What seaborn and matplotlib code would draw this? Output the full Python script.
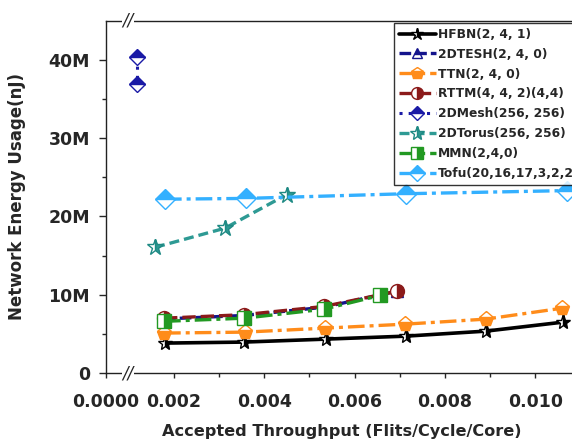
import matplotlib
matplotlib.use("Agg")
import matplotlib.pyplot as plt
import seaborn as sns
import numpy as np

sns.set_style("ticks")
plt.rcParams['font.family'] = ['DejaVu Sans']
plt.rcParams['font.weight'] = 'bold'

# ---- data ----
hfbn_x = [0.00180, 0.00355, 0.00537, 0.00714, 0.00891, 0.01062]
hfbn_y = [3.82e6, 3.95e6, 4.33e6, 4.71e6, 5.35e6, 6.50e6]

tesh_x = [0.00178, 0.00355, 0.00532, 0.00694]
tesh_y = [6.90e6, 7.35e6, 8.40e6, 10.45e6]

ttn_x = [0.00178, 0.00357, 0.00534, 0.00712, 0.00890, 0.01060]
ttn_y = [5.10e6, 5.22e6, 5.73e6, 6.24e6, 6.88e6, 8.28e6]

rttm_x = [0.00178, 0.00355, 0.00532, 0.00694]
rttm_y = [7.00e6, 7.45e6, 8.50e6, 10.45e6]

mesh_x = [0.00118, 0.00118]
mesh_y = [40.3e6, 36.9e6]

torus_x = [0.00158, 0.00313, 0.00450]
torus_y = [16.05e6, 18.50e6, 22.80e6]

mmn_x = [0.00178, 0.00355, 0.00532, 0.00656]
mmn_y = [6.60e6, 7.00e6, 8.15e6, 9.90e6]

tofu_x = [0.00180, 0.00359, 0.00714, 0.01070]
tofu_y = [22.20e6, 22.30e6, 22.90e6, 23.30e6]

labels = ["HFBN(2, 4, 1)", "2DTESH(2, 4, 0)", "TTN(2, 4, 0)", "RTTM(4, 4, 2)(4,4)",
          "2DMesh(256, 256)", "2DTorus(256, 256)", "MMN(2,4,0)", "Tofu(20,16,17,3,2,2)"]

x_ticks = [0.000494, 0.002, 0.004, 0.006, 0.008, 0.010]
x_ticklabels = ["0.0000", "0.002", "0.004", "0.006", "0.008", "0.010"]
y_ticks = [0, 10e6, 20e6, 30e6, 40e6]
y_ticklabels = ["0", "10M", "20M", "30M", "40M"]

# ---- figure ----
W, H = 572, 442
fig = plt.figure(figsize=(W / 100, H / 100), dpi=100)
left_px, right_px, bot_px, top_px = 106, 600, 373, 20.7
ax = fig.add_axes([left_px / W, 1 - bot_px / H, (right_px - left_px) / W, (bot_px - top_px) / H])

xmin = 0.000494
xmax = xmin + (right_px - left_px) / 45150.0
ax.set_xlim(xmin, xmax)
ax.set_ylim(0, 45e6)

series = [
    dict(x=hfbn_x, y=hfbn_y, color="black", ls="-", marker="*", fs="right", ms=11, lw=2.6, mec="black"),
    dict(x=tesh_x, y=tesh_y, color="#14148c", ls=(0, (3.5, 1.2)), marker="^", fs="top", ms=9, lw=2.4, mec="#14148c"),
    dict(x=ttn_x, y=ttn_y, color="#ff8c1a", ls=(0, (5, 1.5, 1.2, 1.5)), marker="p", fs="bottom", ms=11, lw=2.4, mec="#ff8c1a"),
    dict(x=rttm_x, y=rttm_y, color="#8b1a1a", ls=(0, (4, 1.5)), marker="o", fs="right", ms=10, lw=2.4, mec="#8b1a1a"),
    dict(x=mesh_x, y=mesh_y, color="#1a1aa6", ls=(0, (1, 2)), marker="D", fs="top", ms=8, lw=2.2, mec="#1a1aa6"),
    dict(x=torus_x, y=torus_y, color="#2e9a94", ls=(0, (3, 1.5)), marker="*", fs="right", ms=12, lw=2.4, mec="#1f8a84"),
    dict(x=mmn_x, y=mmn_y, color="#229922", ls=(0, (5, 1.5, 1.2, 1.5)), marker="s", fs="right", ms=10, lw=2.4, mec="#229922"),
    dict(x=tofu_x, y=tofu_y, color="#33b0ff", ls=(0, (5, 1.5, 1.2, 1.5)), marker="D", fs="top", ms=10, lw=2.4, mec="#33b0ff"),
]

for s, lab in zip(series, labels):
    sns.lineplot(x=s["x"], y=s["y"], ax=ax, color=s["color"], linestyle=s["ls"],
                 linewidth=s["lw"], marker=s["marker"], markersize=s["ms"],
                 fillstyle=s["fs"], markerfacecolor=s["color"], markerfacecoloralt="white",
                 markeredgecolor=s["mec"], markeredgewidth=1.0, sort=False,
                 estimator=None, label=lab, clip_on=True)

ax.set_xticks(x_ticks)
ax.set_xticklabels(x_ticklabels)
ax.set_xticks([0.001, 0.003, 0.005, 0.007, 0.009, 0.011], minor=True)
ax.set_yticks(y_ticks)
ax.set_yticklabels(y_ticklabels)
ax.set_yticks([5e6, 15e6, 25e6, 35e6], minor=True)

ax.tick_params(axis="x", which="major", direction="out", length=3.6, width=1,
               labelsize=12.5, pad=11)
ax.tick_params(axis="y", which="major", direction="out", length=5, width=1,
               labelsize=12.5, pad=6.5)
ax.tick_params(axis="both", which="minor", direction="out", length=3, width=1)
for t in ax.get_xticklabels() + ax.get_yticklabels():
    t.set_fontweight("bold")

for sp in ax.spines.values():
    sp.set_color("#222222")
    sp.set_linewidth(1.0)

ax.set_xlabel("Accepted Throughput (Flits/Cycle/Core)", fontsize=11.6, fontweight="bold")
ax.set_ylabel("Network Energy Usage(nJ)", fontsize=12, fontweight="bold")
ax.xaxis.set_label_coords((342 - left_px) / (right_px - left_px), -0.146)
ax.yaxis.set_label_coords(-0.162, 0.5)

# axis break marks
for yy in (0.0, 1.0):
    ax.text((128 - left_px) / (right_px - left_px), yy, "//", transform=ax.transAxes,
            ha="center", va="center", fontsize=12, fontweight="normal", style="italic",
            bbox=dict(facecolor="white", edgecolor="none", pad=0.5), clip_on=False, zorder=5)

leg = ax.legend(loc="upper left", bbox_to_anchor=(394 / W, 1 - 23 / H),
                bbox_transform=fig.transFigure, frameon=True, fancybox=False,
                edgecolor="black", fontsize=8.8, handlelength=3.0, handletextpad=0.2,
                labelspacing=0.56, borderpad=0.4, borderaxespad=0, markerscale=0.85)
leg.get_frame().set_linewidth(1.0)
for t in leg.get_texts():
    t.set_fontweight("bold")

fig.savefig("out.png", dpi=100)
